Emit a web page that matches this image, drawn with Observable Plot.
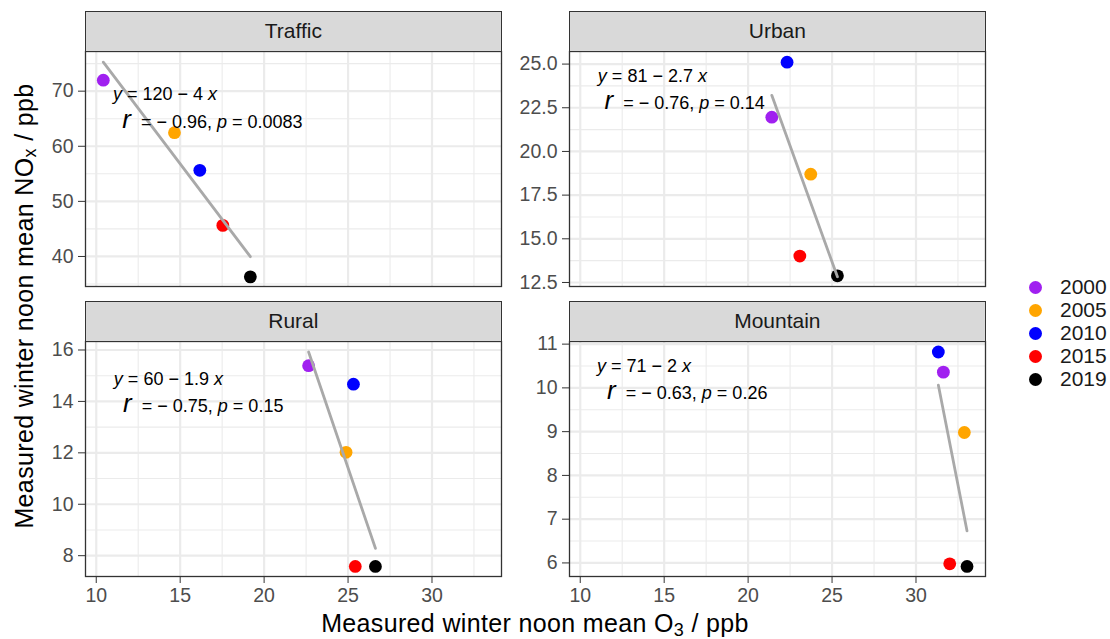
<!DOCTYPE html>
<html>
<head>
<meta charset="utf-8">
<script src="https://cdn.jsdelivr.net/npm/d3@7"></script>
<script src="https://cdn.jsdelivr.net/npm/@observablehq/plot@0.6"></script>
<style>
  body { margin: 0; background: #fff; }
  #chart { position: relative; width: 1110px; height: 639px; overflow: hidden; background: #fff;
           font-family: "Liberation Sans", Arial, sans-serif; }
  #chart svg { position: absolute; overflow: visible; }
  #chart svg [aria-label^="x-axis"] text, #chart svg [aria-label^="y-axis"] text { fill: #4D4D4D; }
  .strip { position: absolute; box-sizing: border-box; background: #D9D9D9; border: 1.3px solid #333333;
           text-align: center; font-size: 21px; color: #1A1A1A; line-height: 38px; }
  .title { position: absolute; font-size: 25px; letter-spacing: 0.35px; line-height: 1; white-space: nowrap; color: #000; }
  .title sub { font-size: 0.72em; vertical-align: -0.2em; line-height: 0; }
  #legend { position: absolute; left: 1029px; top: 275.5px; }
  .lg { height: 23px; display: flex; align-items: center; font-size: 21px; color: #1A1A1A; }
  .lg span.sw { width: 13px; height: 13px; border-radius: 50%; display: inline-block; margin-right: 18px; }
</style>
</head>
<body>
<div id="chart"></div>
<script>
// ---------- data ----------
const facets = ["Traffic", "Urban", "Rural", "Mountain"];
const years = ["2000", "2005", "2010", "2015", "2019"];
const yearColors = ["#A020F0", "#FFA500", "#0000FF", "#FF0000", "#000000"];

// measured winter noon mean O3 (x) and NOx (y), per year 2000..2019
const o3Traffic  = [10.42, 14.66, 16.17, 17.54, 19.18];
const noxTraffic = [72.0, 62.47, 55.64, 45.64, 36.3];
const o3Urban    = [21.41, 23.73, 22.32, 23.08, 25.32];
const noxUrban   = [21.96, 18.70, 25.11, 14.01, 12.88];
const o3Rural    = [22.65, 24.88, 25.32, 25.43, 26.63];
const noxRural   = [15.39, 12.02, 14.67, 7.58, 7.58];
const o3Mountain = [31.63, 32.88, 31.33, 32.01, 33.04];
const noxMountain= [10.36, 8.98, 10.82, 5.98, 5.92];

// axes
const xDomain = [9.36, 34.14];
const xTicks = [10, 15, 20, 25, 30];
const xMinor = [12.5, 17.5, 22.5, 27.5, 32.5];
const yDomTraffic = [34.55, 77.2],  yTicksTraffic = [40, 50, 60, 70],               yMinorTraffic = [35, 45, 55, 65, 75];
const yDomUrban   = [12.27, 25.72], yTicksUrban   = [12.5, 15, 17.5, 20, 22.5, 25], yMinorUrban   = [13.75, 16.25, 18.75, 21.25, 23.75];
const yDomRural   = [7.19, 16.33],  yTicksRural   = [8, 10, 12, 14, 16],            yMinorRural   = [9, 11, 13, 15];
const yDomMountain= [5.69, 11.06],  yTicksMountain= [6, 7, 8, 9, 10, 11],           yMinorMountain= [6.5, 7.5, 8.5, 9.5, 10.5];

// regression annotations (text) and their anchors in data units
const eqText  = ["y = 120 − 4 x", "y = 81 − 2.7 x", "y = 60 − 1.9 x", "y = 71 − 2 x"];
const rText   = ["− 0.96", "− 0.76", "− 0.75", "− 0.63"];
const pText   = ["0.0083", "0.14", "0.15", "0.26"];
const eqAnchorX  = [11.0, 11.05, 11.05, 11.0];
const eqAnchorY  = [69.45, 24.28, 14.86, 10.49];
const corAnchorX = [11.55, 11.45, 11.6, 11.6];
const corAnchorY = [64.45, 22.76, 13.8, 9.88];

// ---------- layout ----------
const FONT = '"Liberation Sans", Arial, sans-serif';
const PW = 416, PH = 235;
const ML = 62, MR = 10, MT = 10;
const panelsSpec = [
  {o3: o3Traffic, nox: noxTraffic, dom: yDomTraffic, ticks: yTicksTraffic, minor: yMinorTraffic, fmt: "d", left: 85, top: 51, showX: false},
  {o3: o3Urban, nox: noxUrban, dom: yDomUrban, ticks: yTicksUrban, minor: yMinorUrban, fmt: ".1f", left: 569, top: 51, showX: false},
  {o3: o3Rural, nox: noxRural, dom: yDomRural, ticks: yTicksRural, minor: yMinorRural, fmt: "d", left: 85, top: 341, showX: true},
  {o3: o3Mountain, nox: noxMountain, dom: yDomMountain, ticks: yTicksMountain, minor: yMinorMountain, fmt: "d", left: 569, top: 341, showX: true}
];

const chart = document.getElementById("chart");
const NS = "http://www.w3.org/2000/svg";
function tspan(parent, txt, attrs = {}) {
  const t = document.createElementNS(NS, "tspan");
  for (const k in attrs) t.setAttribute(k, attrs[k]);
  t.textContent = txt;
  parent.appendChild(t);
}

panelsSpec.forEach((p, i) => {
  const rows = years.map((yr, j) => ({year: yr, o3: p.o3[j], nox: p.nox[j]}));
  const corLabel = "r = " + rText[i] + ", p = " + pText[i];
  const ann = [{x: eqAnchorX[i], y: eqAnchorY[i], label: eqText[i]},
               {x: corAnchorX[i], y: corAnchorY[i], label: corLabel}];
  const MB = p.showX ? 45 : 10;
  const svg = Plot.plot({
    width: ML + PW + MR, height: MT + PH + MB,
    marginLeft: ML, marginRight: MR, marginTop: MT, marginBottom: MB,
    style: {fontFamily: FONT, fontSize: "19.5px", color: "#333333", background: "transparent", overflow: "visible"},
    x: {domain: xDomain, ticks: xTicks, tickSize: 7, tickPadding: 5, tickFormat: d3.format("d"), label: null, axis: p.showX ? "bottom" : null},
    y: {domain: p.dom, ticks: p.ticks, tickSize: 7, tickPadding: 5, tickFormat: d3.format(p.fmt), label: null},
    color: {domain: years, range: yearColors},
    marks: [
      Plot.ruleX(xMinor, {stroke: "#EBEBEB", strokeWidth: 1.1}),
      Plot.ruleY(p.minor, {stroke: "#EBEBEB", strokeWidth: 1.1}),
      Plot.ruleX(xTicks, {stroke: "#EBEBEB", strokeWidth: 2.2}),
      Plot.ruleY(p.ticks, {stroke: "#EBEBEB", strokeWidth: 2.2}),
      Plot.dot(rows, {x: "o3", y: "nox", fill: "year", r: 6.4}),
      Plot.linearRegressionY(rows, {x: "o3", y: "nox", ci: 0, stroke: "#A9A9A9", strokeWidth: 2.8}),
      Plot.text(ann, {x: "x", y: "y", text: "label", textAnchor: "start", fontSize: 18, fill: "#000"}),
      Plot.frame({stroke: "#333333", strokeWidth: 1.3})
    ]
  });
  svg.style.left = (p.left - ML) + "px";
  svg.style.top = (p.top - MT) + "px";
  chart.appendChild(svg);

  // rich text: italic variables, large italic r
  svg.querySelectorAll("text").forEach(el => {
    const s = el.textContent;
    if (s === eqText[i]) {
      el.textContent = "";
      tspan(el, "y", {"font-style": "italic"});
      tspan(el, s.slice(1, -1));
      tspan(el, "x", {"font-style": "italic"});
    } else if (s === corLabel) {
      el.textContent = "";
      tspan(el, "r", {"font-style": "italic", "font-size": "26px"});
      tspan(el, " = " + rText[i] + ", ", {dx: "5"});
      tspan(el, "p", {"font-style": "italic"});
      tspan(el, " = " + pText[i]);
    }
  });

  // strip
  const strip = document.createElement("div");
  strip.className = "strip";
  strip.textContent = facets[i];
  strip.style.left = p.left + "px";
  strip.style.width = (PW + 0.7) + "px";
  strip.style.top = (p.top - 40.5) + "px";
  strip.style.height = "41px";
  chart.appendChild(strip);
});

// axis titles
const xt = document.createElement("div");
xt.className = "title";
xt.innerHTML = "Measured winter noon mean O<sub>3</sub> / ppb";
xt.style.left = "535px"; xt.style.top = "611px"; xt.style.transform = "translateX(-50%)";
chart.appendChild(xt);

const yt = document.createElement("div");
yt.className = "title";
yt.innerHTML = "Measured winter noon mean NO<sub>x</sub> / ppb";
yt.style.left = "24px"; yt.style.top = "306px"; yt.style.transform = "translate(-50%,-50%) rotate(-90deg)";
chart.appendChild(yt);

// legend
const lg = document.createElement("div");
lg.id = "legend";
years.forEach((yr, j) => {
  const row = document.createElement("div");
  row.className = "lg";
  const sw = document.createElement("span");
  sw.className = "sw"; sw.style.background = yearColors[j];
  row.appendChild(sw);
  const t = document.createElement("span");
  t.textContent = yr;
  row.appendChild(t);
  lg.appendChild(row);
});
chart.appendChild(lg);
</script>
</body>
</html>
